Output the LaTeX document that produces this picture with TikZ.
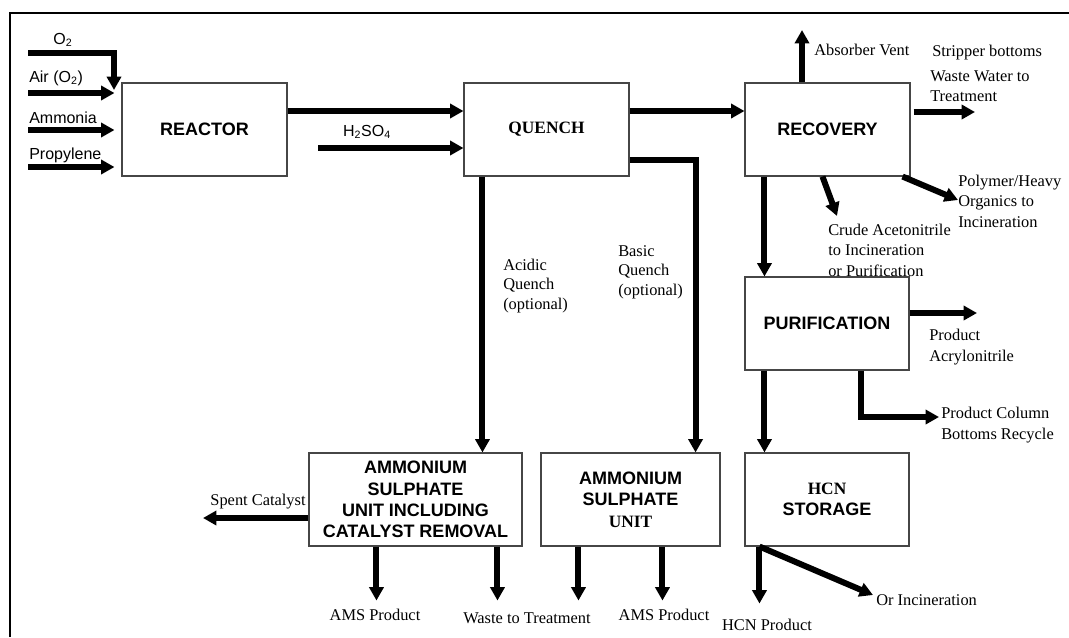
\documentclass[tikz,border=0pt]{standalone}
\usepackage{fontspec}
\setmainfont{Liberation Serif}
\setsansfont{Liberation Sans}
\usepackage{tikz}
\usetikzlibrary{arrows.meta, positioning, calc}
\definecolor{boxline}{RGB}{70,70,70}
\newcommand{\chemsub}[1]{\textsubscript{#1}}

\begin{document}
\begin{tikzpicture}[x=0.75pt, y=-0.75pt,
  unitbox/.style={draw=boxline, line width=0.8pt, inner sep=0pt,
    minimum height=69.75pt, align=center,
    font=\sffamily\bfseries\fontsize{13.5}{16}\selectfont},
  flow/.style={line width=4.5pt, -{Triangle[length=10pt, width=10.5pt]}},
  feedlbl/.style={font=\sffamily\fontsize{12}{14}\selectfont, inner sep=0pt},
  streamlbl/.style={font=\rmfamily\fontsize{12.3}{15.3}\selectfont, align=left,
    inner sep=0pt}]
  \useasboundingbox (0,0) rectangle (1069,637);
  \draw[line width=2.2pt] (10,637) -- (10,13) -- (1069,13);

  % process units
  \node[unitbox, minimum width=123.75pt] (reactor) at (204.5,129.5) {REACTOR};
  \node[unitbox, minimum width=123.75pt,
    font=\rmfamily\bfseries\fontsize{13}{16}\selectfont] (quench) at (546.5,129.5) {QUENCH};
  \node[unitbox, minimum width=123.75pt] (recovery) at (827.5,129.5) {RECOVERY};
  \node[unitbox, minimum width=123pt] (purif) at (827,323.5) {PURIFICATION};
  \node[unitbox, minimum width=159.75pt] (amsA) at (415.5,499.5)
    {AMMONIUM\\SULPHATE\\UNIT INCLUDING\\CATALYST REMOVAL};
  \node[unitbox, minimum width=134.25pt] (amsB) at (630.5,499.5)
    {AMMONIUM\\SULPHATE\\{\rmfamily\fontsize{13}{16}\selectfont UNIT}};
  \node[unitbox, minimum width=123pt] (hcn) at (827,499.5)
    {{\rmfamily\fontsize{13}{16}\selectfont HCN}\\STORAGE};

  % feeds
  \node[feedlbl] (o2lbl) at (63,40) {O\chemsub{2}};
  \node[feedlbl, anchor=west] (airlbl) at (29,78) {Air (O\chemsub{2})};
  \node[feedlbl, anchor=west] (nh3lbl) at (29,118) {Ammonia};
  \node[feedlbl, anchor=west] (c3lbl) at (29,155) {Propylene};
  \node[feedlbl] (h2so4lbl) at (367,132) {H\chemsub{2}SO\chemsub{4}};
  \coordinate (o2in) at (28,53);
  \coordinate (o2tip) at (114,90);
  \coordinate (airin) at (28,93);
  \coordinate (nh3in) at (28,130);
  \coordinate (c3in) at (28,167);
  \coordinate (h2so4in) at (318,148);
  \draw[flow] (o2in) -| (o2tip);
  \draw[flow, shorten >=5.25pt] (airin) -- (airin -| reactor.west);
  \draw[flow, shorten >=5.25pt] (nh3in) -- (nh3in -| reactor.west);
  \draw[flow, shorten >=5.25pt] (c3in) -- (c3in -| reactor.west);
  \draw[flow] (h2so4in) -- (h2so4in -| quench.west);

  % main train
  \draw[flow] ($(reactor.east)+(0,-18.5)$) -- ($(quench.west)+(0,-18.5)$);
  \draw[flow] ($(quench.east)+(0,-18.5)$) -- ($(recovery.west)+(0,-18.5)$);
  \coordinate (acidq) at ($(quench.south west)+(19,0)$);
  \draw[flow] (acidq) -- (acidq |- amsA.north);
  \draw[flow] ($(quench.east)+(0,30.5)$) -| ($(amsB.north east)+(-25,0)$);
  \node[streamlbl, anchor=west, font=\rmfamily\fontsize{12.3}{14.5}\selectfont]
    (acidlbl) at (503,286) {Acidic\\Quench\\(optional)};
  \node[streamlbl, anchor=west, font=\rmfamily\fontsize{12.3}{14.5}\selectfont]
    (basiclbl) at (618,272) {Basic\\Quench\\(optional)};

  % recovery outlets
  \coordinate (venttip) at (802,30);
  \coordinate (wwtip) at (975,112);
  \coordinate (crudetip) at (837,216);
  \coordinate (polytip) at (958,200);
  \coordinate (rpdrop) at ($(recovery.south west)+(20,0)$);
  \draw[flow] (venttip |- recovery.north) -- (venttip);
  \draw[flow] ($(recovery.east)+(3,-17.5)$) -- (wwtip);
  \draw[flow] ($(recovery.south west)+(78,0)$) -- (crudetip);
  \draw[flow] ($(recovery.south east)+(-8,0)$) -- (polytip);
  \draw[flow] (rpdrop) -- (rpdrop |- purif.north);
  \node[streamlbl, anchor=west] (ventlbl) at (814,50) {Absorber Vent};
  \node[streamlbl, anchor=west] (striplbl) at (932,53) {Stripper bottoms};
  \node[streamlbl, anchor=west] (wwlbl) at (930,86) {Waste Water to\\Treatment};
  \node[streamlbl, anchor=west] (crudelbl) at (828,250)
    {Crude Acetonitrile\\to Incineration\\or Purification};
  \node[streamlbl, anchor=west] (polylbl) at (958,201)
    {Polymer/Heavy\\Organics to\\Incineration};

  % purification outlets
  \coordinate (acntip) at (977,313);
  \coordinate (pcbtip) at (939,417);
  \coordinate (phdrop) at ($(purif.south west)+(20,0)$);
  \draw[flow] (acntip -| purif.east) -- (acntip);
  \draw[flow] ($(purif.south west)+(117,0)$) |- (pcbtip);
  \draw[flow] (phdrop) -- (phdrop |- hcn.north);
  \node[streamlbl, anchor=west] (acnlbl) at (929,347) {Product\\Acrylonitrile};
  \node[streamlbl, anchor=west] (pcblbl) at (941,425) {Product Column\\Bottoms Recycle};

  % bottom units
  \coordinate (spenttip) at (203,518);
  \coordinate (hcnout) at ($(hcn.south west)+(15,0)$);
  \coordinate (incintip) at (873,595);
  \draw[flow] (spenttip -| amsA.west) -- (spenttip);
  \draw[flow] ($(amsA.south west)+(68,0)$) -- ++(0,54);
  \draw[flow] ($(amsA.south west)+(189,0)$) -- ++(0,54);
  \draw[flow] ($(amsB.south west)+(38,0)$) -- ++(0,54);
  \draw[flow] ($(amsB.south west)+(122,0)$) -- ++(0,54);
  \draw[flow] (hcnout) -- ++(0,57);
  \draw[flow] (hcnout) -- (incintip);
  \node[streamlbl] (spentlbl) at (258,502) {Spent Catalyst};
  \node[streamlbl] (amsAlbl) at (375,615) {AMS Product};
  \node[streamlbl] (wastelbl) at (527,618) {Waste to Treatment};
  \node[streamlbl] (amsBlbl) at (664,615) {AMS Product};
  \node[streamlbl] (hcnlbl) at (767,625) {HCN Product};
  \node[streamlbl, anchor=west] (incinlbl) at (876,600) {Or Incineration};
\end{tikzpicture}
\end{document}
